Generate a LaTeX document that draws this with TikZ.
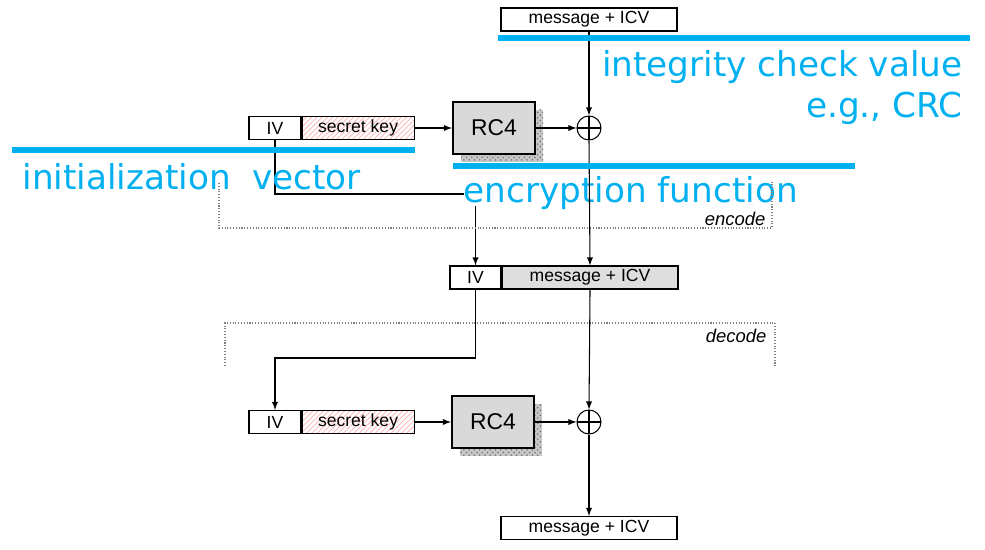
\documentclass[tikz,border=0pt]{standalone}
\usepackage{fontspec}
\setmainfont{Liberation Sans}
\newfontfamily\notefont{DejaVu Sans}
\usetikzlibrary{patterns}
\definecolor{noteblue}{RGB}{0,176,240}
\tikzset{
	field/.style = {draw, line width=0.6pt, minimum height=0.46cm, inner sep=0pt, font=\fontsize{10}{12}\selectfont},
	keyfield/.style = {field, pattern=north east lines, pattern color=red!30},
	msgfield/.style = {field, fill=black!13, minimum width=3.52cm},
	cipher/.style = {draw, line width=1.2pt, fill=black!15, minimum width=1.64cm, minimum height=1.04cm, font=\fontsize{13}{15}\selectfont},
	shade/.style = {preaction={fill=black!22}, pattern=crosshatch dots, pattern color=black!55},
	xorop/.style = {circle, draw, line width=0.6pt, minimum size=0.48cm, inner sep=0pt,
		path picture={\draw (path picture bounding box.north) -- (path picture bounding box.south)
			(path picture bounding box.west) -- (path picture bounding box.east);}},
	note/.style = {text=noteblue, font=\notefont\fontsize{19.5}{22}\selectfont, inner sep=0pt},
	noteline/.style = {draw=noteblue, line width=3pt},
	frame/.style = {densely dotted, gray, line width=0.6pt},
	tag/.style = {font=\itshape\fontsize{10.5}{12}\selectfont, inner sep=0pt}
}
\begin{document}
\begin{tikzpicture}[x=0.02cm, y=-0.02cm, >=latex, line width=0.6pt]
	\useasboundingbox (0,0) rectangle (985,550);
	% shadows of the RC4 boxes
	\fill [shade] (461,136) rectangle (543,162);
	\fill [shade] (527,110) rectangle (543,162);
	\fill [shade] (460,430) rectangle (542,456);
	\fill [shade] (526,404) rectangle (542,456);
	% encoder
	\node [field, fill=white, minimum width=3.52cm] (msgA) at (589,19.5) {message + ICV};
	\node [field, minimum width=1.04cm] (ivA) at (275,128) {IV};
	\node [keyfield, minimum width=2.24cm, anchor=west] (keyA) at (ivA.east) {secret key};
	\node [cipher] (rc4A) at (494,128) {RC4};
	\node [xorop] (xorA) at (589,128) {};
	% transmitted frame
	\node [field, minimum width=1.02cm] (ivB) at (475.5,277.5) {IV};
	\node [msgfield, anchor=west] (msgB) at (ivB.east) {message + ICV};
	% decoder
	\node [field, minimum width=1.04cm] (ivC) at (275,422) {IV};
	\node [keyfield, minimum width=2.24cm, anchor=west] (keyC) at (ivC.east) {secret key};
	\node [cipher] (rc4C) at (493,422) {RC4};
	\node [xorop] (xorC) at (589,422) {};
	\node [field, fill=white, minimum width=3.52cm] (msgC) at (589,528) {message + ICV};

	\draw [->] (ivA.south) |- (ivB.north |- 0,194) -- (ivB.north);
	\node [note, anchor=base west, fill=white, text depth=1.5pt] (encNote) at (463,203) {encryption function};

	\draw [frame] (219,183) -- (219,228) -- (772,228) -- (772,182);
	\draw [frame] (225,366) -- (225,323) -- (775,323) -- (775,367);
	\node [tag, anchor=base east] (encTag) at (766,226) {encode};
	\node [tag, anchor=base east] (decTag) at (767,343) {decode};

	\draw [->] (msgA.south) -- (xorA.north);
	\draw [->] (keyA.east) -- (rc4A.west);
	\draw [->] (rc4A.east) -- (xorA.west);
	\draw [->] (xorA.south) -- (msgB.north);
	\draw [->] (ivB.south) |- (ivC.north |- 0,358) -- (ivC.north);
	\draw [->] (msgB.south) -- (xorC.north);
	\draw [->] (keyC.east) -- (rc4C.west);
	\draw [->] (rc4C.east) -- (xorC.west);
	\draw [->] (xorC.south) -- (msgC.north);

	% notes
	\draw [noteline] (498,38) -- (970,38);
	\node [note, anchor=base east] (icvNote) at (963,77) {integrity check value};
	\node [note, anchor=base east] (crcNote) at (963,118) {e.g., CRC};
	\draw [noteline] (12,150) -- (415,150);
	\node [note, anchor=base west] (ivNote) at (22,190) {initialization\hspace{0.3em} vector};
	\draw [noteline] (453,166) -- (855,166);
\end{tikzpicture}
\end{document}
